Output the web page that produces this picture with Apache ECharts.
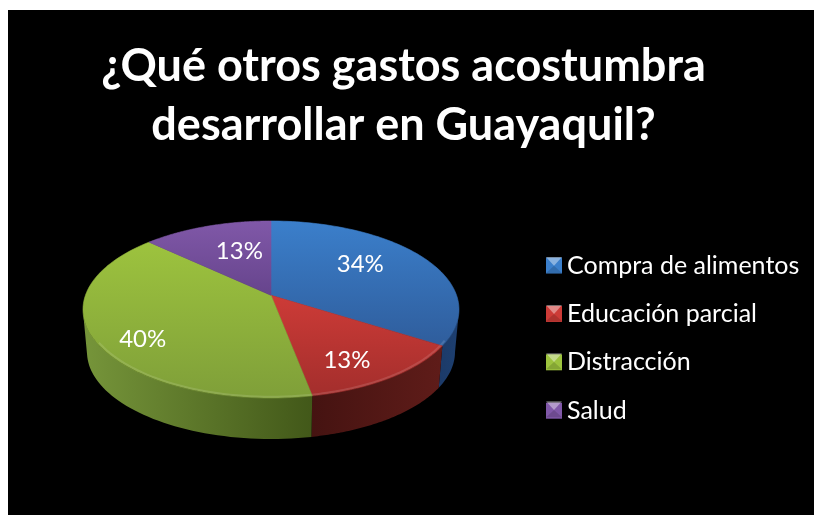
<!DOCTYPE html>
<html><head><meta charset="utf-8">
<style>html,body{margin:0;padding:0;background:#fff}#c{width:814px;height:515px}</style>
<script src="https://cdn.jsdelivr.net/npm/echarts@6/dist/echarts.min.js"></script>
</head><body><div id="c"></div>
<script>
const titleText = '¿Qué otros gastos acostumbra\ndesarrollar en Guayaquil?';
const categories = ['Compra de alimentos', 'Educación parcial', 'Distracción', 'Salud'];
const values = [34, 13, 40, 13];
const topColors = [['#3b7fcb', '#2f5d9c'], ['#cd3b37', '#a32e2c'], ['#9dc33e', '#7f9f39'], ['#8058a8', '#66448c']];
const wallColors = [['#1c3a68', '#1d3f70'], ['#451311', '#5f1c19'], ['#76953a', '#425819'], ['#55397a', '#55397a']];
const labelNudges = [[-4, -7], [8, 18], [-26, 18], [9, 0]];

const FONT = 'Lato, "Open Sans", sans-serif';
const cx = 271, cy = 309.5, rx = 188, ry = 88.5, tilt = -0.16;
const bx = 184, by = 87, bcy = 352;
const total = values.reduce((a, b) => a + b, 0);
// projective view of a flat disc: r in [0,1], theta clockwise from 12 o'clock
function unit(theta, r) {
  const u = r * Math.sin(theta), v = -r * Math.cos(theta);
  const d = 1 + tilt * v;
  return [u * Math.sqrt(1 - tilt * tilt) / d, (v + tilt) / d];
}
const topPt = (t, r = 1) => { const p = unit(t, r); return [cx + rx * p[0], cy + ry * p[1]]; };
const botPt = t => { const p = unit(t, 1); return [cx + bx * p[0], bcy + by * p[1]]; };
const grad = (c, x2, y2) => ({ type: 'linear', x: 0, y: 0, x2, y2, colorStops: [{ offset: 0, color: c[0] }, { offset: 1, color: c[1] }] });
const bands = [];
let acc = 0;
values.forEach(v => { bands.push([acc / total * 2 * Math.PI, (acc + v) / total * 2 * Math.PI]); acc += v; });
const legendBox = { x: 546, y: 257, size: 16, pitch: 48.1 };

function sliceRenderer(i) {
  return function () {
    const [a, b] = bands[i], n = 80, arc = [], front = [], rim = [];
    for (let k = 0; k <= n; k++) {
      const t = a + (b - a) * k / n;
      arc.push(topPt(t));
      const py = unit(t, 1)[1];
      if (py >= 0) front.push(t);
      if (py >= 0.35) rim.push(t);
    }
    const children = [];
    if (front.length > 1) {
      const wall = front.map(t => topPt(t)).concat(front.slice().reverse().map(t => botPt(t)));
      children.push({ type: 'polygon', shape: { points: wall }, style: { fill: grad(wallColors[i], 1, 0) } });
    }
    children.push({ type: 'polygon', shape: { points: [topPt(0, 0)].concat(arc) }, style: { fill: grad(topColors[i], 0, 1), stroke: grad(topColors[i], 0, 1), lineWidth: 0.6 } });
    if (rim.length > 1) {
      children.push({ type: 'polyline', shape: { points: rim.map(t => topPt(t, 0.99)) }, style: { fill: 'none', stroke: 'rgba(255,255,255,0.12)', lineWidth: 2 } });
    }
    const mid = (a + b) / 2, lp = topPt(mid, 0.6);
    children.push({ type: 'text', z2: 10, style: { x: lp[0] + labelNudges[i][0], y: lp[1] + labelNudges[i][1], text: values[i] + '%', fill: '#fff', font: '24px ' + FONT, align: 'center', verticalAlign: 'middle' } });
    // bevel on the legend key
    const s = legendBox.size, x = legendBox.x, y = legendBox.y + i * legendBox.pitch;
    children.push({ type: 'polygon', z2: 20, shape: { points: [[x, y], [x + s, y], [x + s / 2, y + s * 0.55]] }, style: { fill: 'rgba(255,255,255,0.4)' } });
    children.push({ type: 'polygon', z2: 20, shape: { points: [[x, y + s], [x + s, y + s], [x + s / 2, y + s * 0.55]] }, style: { fill: 'rgba(0,0,0,0.15)' } });
    return { type: 'group', children };
  };
}

const chart = echarts.init(document.getElementById('c'), null, { renderer: 'canvas' });
chart.setOption({
  animation: false,
  backgroundColor: '#fff',
  graphic: [{ type: 'rect', z: -10, silent: true, shape: { x: 8, y: 10, width: 806, height: 505 }, style: { fill: '#000' } }],
  title: { text: titleText, left: 398.5, top: 32, textAlign: 'center',
    textStyle: { color: '#fff', fontFamily: FONT, fontWeight: 'bold', fontSize: 45, lineHeight: 59 } },
  legend: { orient: 'vertical', left: 546, top: 253, padding: 0, itemWidth: 16, itemHeight: 16, itemGap: 23.4, selectedMode: false,
    icon: 'rect', data: categories.map((name, i) => ({ name, itemStyle: { color: topColors[i][0] } })),
    textStyle: { color: '#fff', fontFamily: FONT, fontSize: 25 } },
  series: categories.map((name, i) => ({
    type: 'custom', name, coordinateSystem: 'none', z: 5, silent: true,
    itemStyle: { color: topColors[i][0] }, data: [values[i]], renderItem: sliceRenderer(i)
  }))
});
</script></body></html>
